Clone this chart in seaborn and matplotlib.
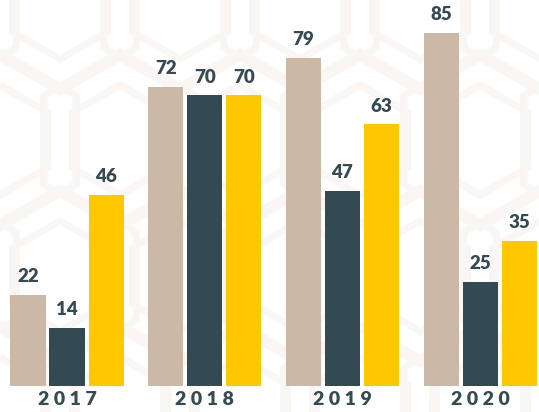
import pandas as pd
import seaborn as sns
import matplotlib.pyplot as plt
from matplotlib.patches import RegularPolygon

# chart data
years = ['2017', '2018', '2019', '2020']
series = ['A', 'B', 'C']
values_a = [22, 72, 79, 85]
values_b = [14, 70, 47, 25]
values_c = [46, 70, 63, 35]
colors = ['#cbb8a5', '#344a53', '#fdc800']
text_color = '#354a53'

df = pd.DataFrame({
    'year': years * 3,
    'series': [s for s in series for _ in years],
    'value': values_a + values_b + values_c,
})

sns.set_theme(style='white')
plt.rcParams['font.family'] = ['Lato', 'DejaVu Sans']

fig = plt.figure(figsize=(5.39, 4.12), dpi=100)

# faint hexagon texture on a background axes
bg = fig.add_axes([0, 0, 1, 1], zorder=0)
bg.set_xlim(0, 539)
bg.set_ylim(0, 412)
bg.axis('off')
for i in range(-1, 6):
    for j in range(-1, 5):
        cx = i * 120 + (60 if j % 2 else 0)
        cy = j * 136
        for r in (88, 55):
            bg.add_patch(RegularPolygon((cx, cy), 6, radius=r, fill=False,
                                        ec='#f9f6f3', lw=5))

ax = fig.add_axes([0, 0, 1, 1], zorder=1)
sns.barplot(data=df, x='year', y='value', hue='series', palette=colors,
            width=0.85, gap=0.1, saturation=1, linewidth=0, legend=False, ax=ax)

for container in ax.containers:
    ax.bar_label(container, padding=7, fontsize=13.5, fontweight='heavy', color=text_color)

ax.set_xlim(-0.487, 3.428)
ax.set_ylim(-6.3, 93)
ax.patch.set_alpha(0)
ax.set_xticks([])
ax.set_yticks([])
ax.set_xlabel('')
ax.set_ylabel('')
for side in ax.spines.values():
    side.set_visible(False)

for i, y in enumerate(years):
    ax.text(i, -3.4, ' '.join(y), ha='center', va='center', fontsize=14,
            fontweight='heavy', color=text_color)

fig.savefig('out.png', dpi=100)
